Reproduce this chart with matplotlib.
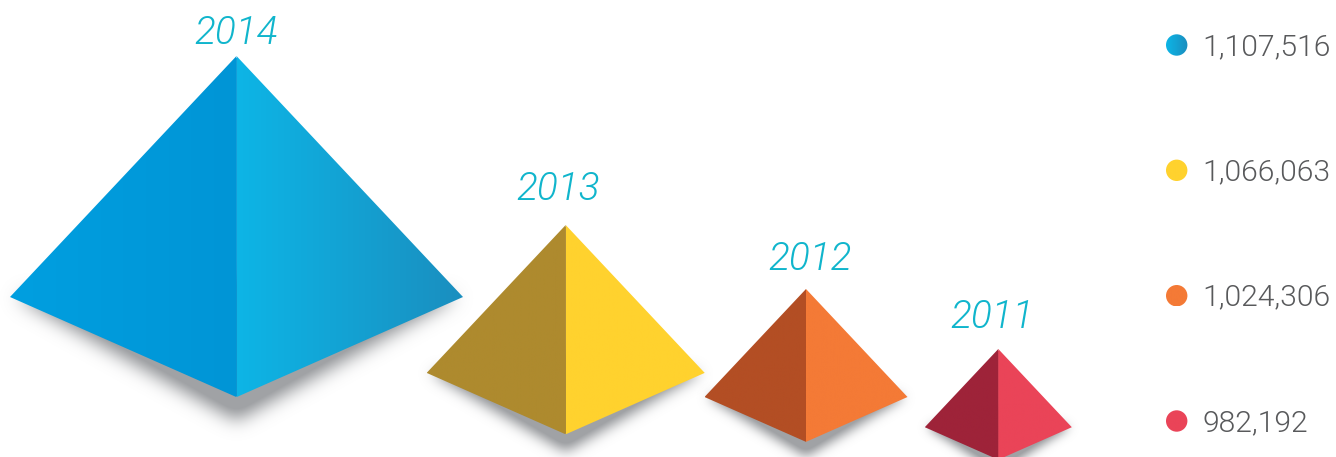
import numpy as np
import matplotlib
matplotlib.use("Agg")
import matplotlib.pyplot as plt
from matplotlib.colors import to_rgb, LinearSegmentedColormap
from matplotlib.patches import Polygon, Circle
from matplotlib.path import Path

# Totals per year
years = ["2014", "2013", "2012", "2011"]
totals = [1107516, 1066063, 1024306, 982192]

# Pyramid layout, in pixels
pyr_width = [453, 278, 203, 147]
pyr_x = [236.5, 565.7, 806, 998.3]
pyr_top = [56, 225, 289, 349]
year_x = [236, 558, 810, 992.5]
year_y = [33.5, 189, 259, 317.5]
dot_y = [45, 170.3, 295.7, 421]

# Face colours, each runs left to right
left_faces = [["#009FE0", "#0095D6"], ["#AE8A2E", "#AE8A2E"], ["#B34E24", "#B34E24"], ["#9E2339", "#9E2339"]]
right_faces = [["#0DB5E6", "#1A8EBF"], ["#FFD22E", "#FFD22E"], ["#F47A36", "#F47A36"], ["#EA4458", "#EA4458"]]

UPPER = 0.532   # apex to corners, as a share of the width
LOWER = 0.221   # corners to bottom point
W, H = 1336, 457
PAD = 60


def blur(a, sigma):
    r = int(3 * sigma)
    k = np.exp(-0.5 * (np.arange(-r, r + 1) / sigma) ** 2)
    k /= k.sum()
    a = np.apply_along_axis(lambda m: np.convolve(m, k, mode="same"), 0, a)
    a = np.apply_along_axis(lambda m: np.convolve(m, k, mode="same"), 1, a)
    return a


def draw_shadow(ax, xc, base, w):
    # soft grey copy of the lower edges, pushed down a bit
    dy = 8 + 0.034 * w
    sigma = 3 + 0.013 * w
    inset = 0.012 * w
    pts = [(xc - w / 2 + inset, base), (xc, base + LOWER * w + dy), (xc + w / 2 - inset, base), (xc, base - 20)]
    xx, yy = np.meshgrid(np.arange(W) + 0.5, np.arange(H + PAD) + 0.5)
    grid = np.column_stack([xx.ravel(), yy.ravel()])
    mask = Path(pts).contains_points(grid).reshape(xx.shape).astype(float)
    mask = blur(mask, sigma)
    img = np.zeros(mask.shape + (4,))
    img[..., :3] = to_rgb("#A0A2A5")
    img[..., 3] = np.clip(mask * 1.25, 0, 1)
    ax.imshow(img, extent=(0, W, H + PAD, 0), aspect="auto", zorder=1, interpolation="bilinear")


def gradient_patch(ax, verts, cols, zorder=2):
    # horizontal colour ramp cut to the polygon
    cmap = LinearSegmentedColormap.from_list("face", cols)
    xs = [v[0] for v in verts]
    ys = [v[1] for v in verts]
    im = ax.imshow(np.linspace(0, 1, 256).reshape(1, -1), cmap=cmap, aspect="auto",
                   extent=(min(xs), max(xs), max(ys), min(ys)), zorder=zorder)
    poly = Polygon(verts, closed=True, fc="none", ec="none", transform=ax.transData)
    ax.add_patch(poly)
    im.set_clip_path(poly)


plt.rcParams["font.family"] = ["Roboto", "DejaVu Sans"]
fig = plt.figure(figsize=(W / 100, H / 100), dpi=100, facecolor="white")
ax = fig.add_axes([0, 0, 1, 1])

for i, year in enumerate(years):
    xc, top, w = pyr_x[i], pyr_top[i], pyr_width[i]
    base = top + UPPER * w
    tip = base + LOWER * w
    draw_shadow(ax, xc, base, w)
    # thin strip behind the seam so no white shows between the faces
    ax.plot([xc, xc], [top + 2, tip - 1], color=left_faces[i][1], lw=1.2, zorder=1.5, solid_capstyle="butt")
    gradient_patch(ax, [(xc - w / 2, base), (xc, top), (xc, tip)], left_faces[i])
    gradient_patch(ax, [(xc, top), (xc + w / 2, base), (xc, tip)], right_faces[i])
    ax.text(year_x[i], year_y[i], year, color="#10B5CC", fontsize=28, style="italic", weight=300,
            ha="center", va="center", zorder=4)

    # value key on the right
    dot = Circle((1176.7, dot_y[i]), 10.7, fc="none", ec="none")
    ax.add_patch(dot)
    cmap = LinearSegmentedColormap.from_list("dot", right_faces[i])
    im = ax.imshow(np.linspace(0, 1, 64).reshape(1, -1), cmap=cmap, aspect="auto", zorder=3,
                   extent=(1166, 1187.4, dot_y[i] + 10.7, dot_y[i] - 10.7))
    im.set_clip_path(dot)
    ax.text(1202, dot_y[i] + 2, f"{totals[i]:,}", color="#58595B", fontsize=21.7, weight=300,
            ha="left", va="center", zorder=4)

ax.set_xlim(0, W)
ax.set_ylim(H, 0)
ax.axis("off")
fig.savefig("out.png", dpi=100, facecolor="white")
